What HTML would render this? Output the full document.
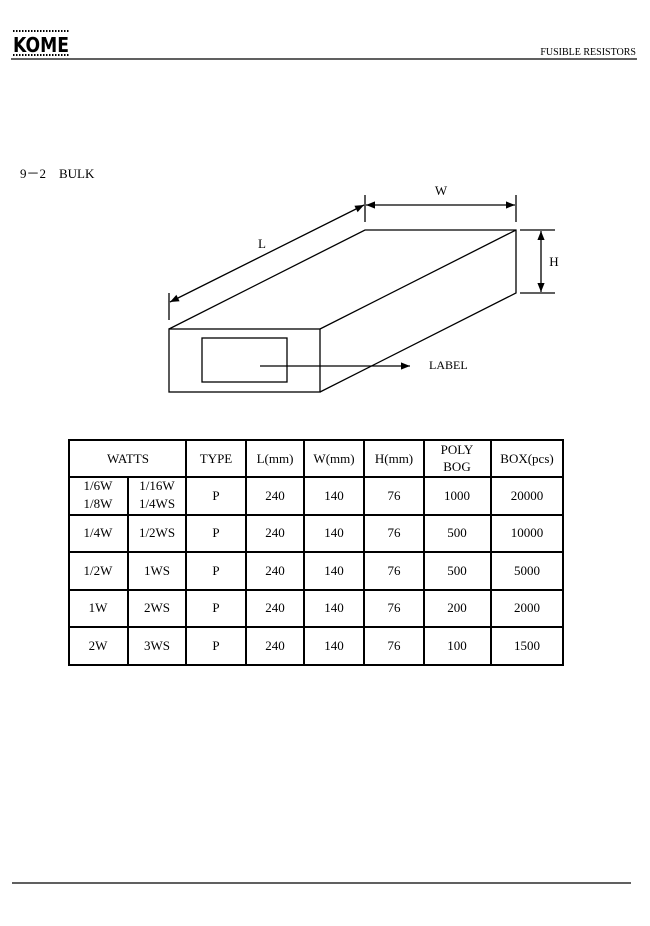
<!DOCTYPE html>
<html><head><style>
html,body{margin:0;padding:0;background:#fff;}
svg{display:block;}
text{font-family:"Liberation Serif",serif;fill:#000;}
</style></head><body>
<svg width="650" height="926" viewBox="0 0 650 926" xmlns="http://www.w3.org/2000/svg">
<defs>
<marker id="a" viewBox="0 0 10 10" refX="10" refY="5" markerWidth="9" markerHeight="9" orient="auto-start-reverse" markerUnits="userSpaceOnUse"><path d="M0,1 L10,5 L0,9 z" fill="#000"/></marker>
</defs>
<!-- header -->
<line x1="13" y1="31" x2="69" y2="31" stroke="#000" stroke-width="2" stroke-dasharray="1.5,1.5"/>
<text x="13" y="52" style="font-family:'DejaVu Sans',sans-serif;font-weight:bold;font-size:20px" textLength="56" lengthAdjust="spacingAndGlyphs">KOME</text>
<line x1="13" y1="55" x2="69" y2="55" stroke="#000" stroke-width="2" stroke-dasharray="1.5,1.5"/>
<line x1="11" y1="59" x2="637" y2="59" stroke="#000" stroke-width="1.2"/>
<text x="636" y="55" font-size="10" text-anchor="end">FUSIBLE RESISTORS</text>
<text x="20" y="178" font-size="13">9－2　BULK</text>
<!-- box -->
<g stroke="#000" stroke-width="1.3" fill="none">
<rect x="169" y="329" width="151" height="63"/>
<polyline points="169,329 365,230 516,230 516,293 320,392"/>
<line x1="320" y1="329" x2="516" y2="230"/>
<rect x="202" y="338" width="85" height="44"/>
<line x1="260" y1="366" x2="410" y2="366" marker-end="url(#a)"/>
<line x1="169" y1="293" x2="169" y2="320"/>
<line x1="365" y1="195" x2="365" y2="222"/>
<line x1="516" y1="195" x2="516" y2="222"/>
<line x1="170" y1="302" x2="364" y2="205" marker-start="url(#a)" marker-end="url(#a)"/>
<line x1="366" y1="205" x2="515" y2="205" marker-start="url(#a)" marker-end="url(#a)"/>
<line x1="520" y1="230" x2="555" y2="230"/>
<line x1="520" y1="293" x2="555" y2="293"/>
<line x1="541" y1="231" x2="541" y2="292" marker-start="url(#a)" marker-end="url(#a)"/>
</g>
<text x="441" y="195" font-size="13" text-anchor="middle">W</text>
<text x="262" y="248" font-size="13" text-anchor="middle">L</text>
<text x="554" y="266" font-size="13" text-anchor="middle">H</text>
<text x="429" y="369" font-size="12">LABEL</text>
<!-- table -->
<g stroke="#000" stroke-width="2" fill="none">
<rect x="69" y="440" width="494" height="225"/>
<line x1="69" y1="477" x2="563" y2="477"/>
<line x1="69" y1="515" x2="563" y2="515"/>
<line x1="69" y1="552" x2="563" y2="552"/>
<line x1="69" y1="590" x2="563" y2="590"/>
<line x1="69" y1="627" x2="563" y2="627"/>
<line x1="128" y1="477" x2="128" y2="665"/>
<line x1="186" y1="440" x2="186" y2="665"/>
<line x1="246" y1="440" x2="246" y2="665"/>
<line x1="304" y1="440" x2="304" y2="665"/>
<line x1="364" y1="440" x2="364" y2="665"/>
<line x1="424" y1="440" x2="424" y2="665"/>
<line x1="491" y1="440" x2="491" y2="665"/>
</g>
<g font-size="13" text-anchor="middle">
<text x="128" y="463">WATTS</text>
<text x="216" y="463">TYPE</text>
<text x="275" y="463">L(mm)</text>
<text x="334" y="463">W(mm)</text>
<text x="394" y="463">H(mm)</text>
<text x="457" y="454">POLY</text>
<text x="457" y="471">BOG</text>
<text x="527" y="463">BOX(pcs)</text>

<text x="98" y="490">1/6W</text><text x="98" y="508">1/8W</text>
<text x="157" y="490">1/16W</text><text x="157" y="508">1/4WS</text>
<text x="216" y="500">P</text><text x="275" y="500">240</text><text x="334" y="500">140</text><text x="394" y="500">76</text><text x="457" y="500">1000</text><text x="527" y="500">20000</text>

<text x="98" y="537">1/4W</text><text x="157" y="537">1/2WS</text>
<text x="216" y="537">P</text><text x="275" y="537">240</text><text x="334" y="537">140</text><text x="394" y="537">76</text><text x="457" y="537">500</text><text x="527" y="537">10000</text>

<text x="98" y="575">1/2W</text><text x="157" y="575">1WS</text>
<text x="216" y="575">P</text><text x="275" y="575">240</text><text x="334" y="575">140</text><text x="394" y="575">76</text><text x="457" y="575">500</text><text x="527" y="575">5000</text>

<text x="98" y="612">1W</text><text x="157" y="612">2WS</text>
<text x="216" y="612">P</text><text x="275" y="612">240</text><text x="334" y="612">140</text><text x="394" y="612">76</text><text x="457" y="612">200</text><text x="527" y="612">2000</text>

<text x="98" y="650">2W</text><text x="157" y="650">3WS</text>
<text x="216" y="650">P</text><text x="275" y="650">240</text><text x="334" y="650">140</text><text x="394" y="650">76</text><text x="457" y="650">100</text><text x="527" y="650">1500</text>
</g>
<line x1="12" y1="883" x2="631" y2="883" stroke="#000" stroke-width="1.2"/>
</svg>
</body></html>
